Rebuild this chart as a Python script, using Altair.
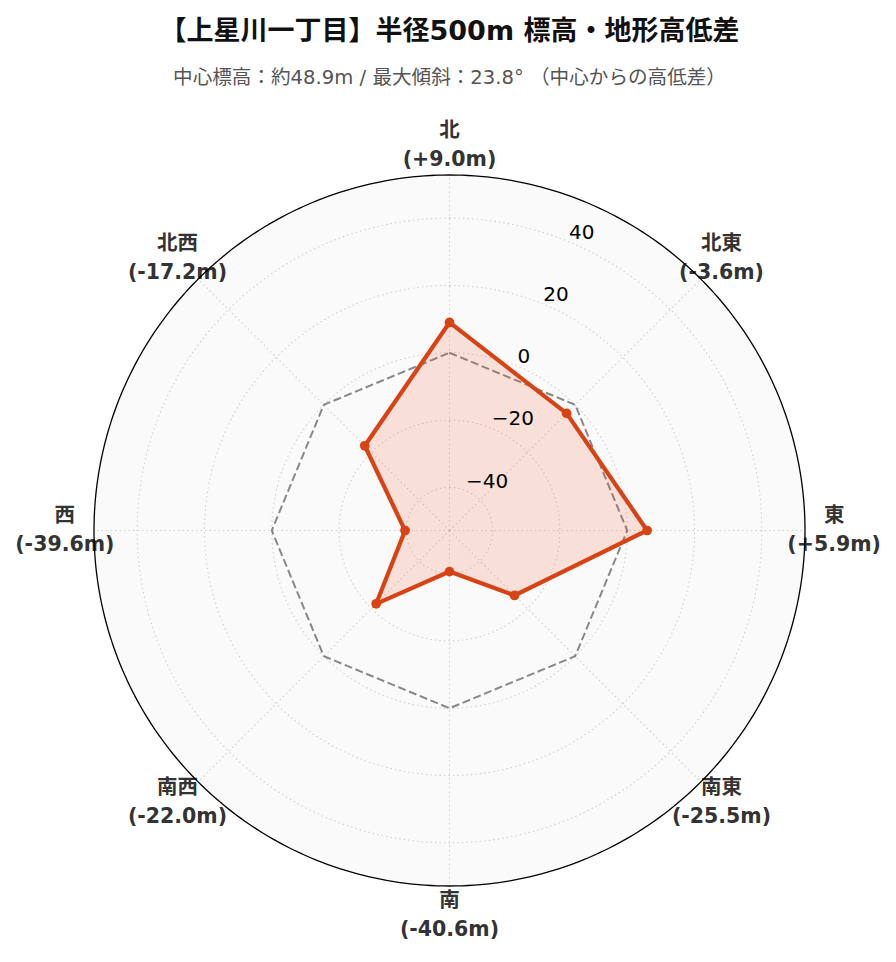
import altair as alt
import pandas as pd

# ---------------- data ----------------
title_text = "【上星川一丁目】半径500m 標高・地形高低差"
subtitle_text = "中心標高：約48.9m / 最大傾斜：23.8° （中心からの高低差）"
directions = ["北", "北東", "東", "南東", "南", "南西", "西", "北西"]
diffs = [9.0, -3.6, 5.9, -25.5, -40.6, -22.0, -39.6, -17.2]
r_ticks = [-40, -20, 0, 20, 40]
r_tick_labels = ["−40", "−20", "0", "20", "40"]
ref_level = 0.0

R_LIM = round(max(abs(v) for v in diffs) * 1.3, 1)   # radial limits +-R_LIM
D = 2 * R_LIM                                          # radial span (data units)
LABEL_D = D * 1.082                                    # where direction labels sit

W = 711
FONT = "DejaVu Sans, Noto Sans CJK JP"
ACCENT = "#D84315"
FILL = "#F4511E"

pts = pd.DataFrame({
    "i": list(range(len(directions))),
    "v": diffs,
    "label": [f"{d}\n({v:+.1f}m)" for d, v in zip(directions, diffs)],
})
ref = pd.DataFrame({"i": list(range(len(directions))), "v": [ref_level] * len(directions)})
circ = pd.DataFrame([(t, k) for t in r_ticks for k in range(180)], columns=["t", "k"])
outer = pd.DataFrame({"k": list(range(360))})
spokes = pd.DataFrame({"i": list(range(len(directions)))})
ticks = pd.DataFrame({"t": r_ticks, "lab": r_tick_labels})

xs = alt.Scale(domain=[-D, D], nice=False, zero=False)
ys = alt.Scale(domain=[-D, D], nice=False, zero=False)
X = alt.X("x:Q", scale=xs, axis=None)
Y = alt.Y("y:Q", scale=ys, axis=None)

def polar(chart, rexpr, aexpr):
    return chart.transform_calculate(
        ang=aexpr
    ).transform_calculate(
        x=f"({rexpr}) * sin(datum.ang)",
        y=f"({rexpr}) * cos(datum.ang)",
    )

# background disc
bg = polar(alt.Chart(outer), f"{D}", "datum.k * 2 * PI / 360").mark_line(
    interpolate="linear-closed", fill="#fafafa", stroke="#fafafa", strokeWidth=0.5
).encode(x=X, y=Y, order="k:Q")

# grid circles
grid = polar(alt.Chart(circ), f"datum.t + {R_LIM}", "datum.k * 2 * PI / 180").mark_line(
    interpolate="linear-closed", color="#cfcfcf", strokeWidth=1.1, strokeDash=[1.5, 3]
).encode(x=X, y=Y, detail="t:N", order="k:Q")

# spokes
spk = alt.Chart(spokes).transform_calculate(
    ang="datum.i * PI / 4", x0="0", y0="0"
).transform_calculate(
    x=f"{D} * sin(datum.ang)", y=f"{D} * cos(datum.ang)"
).mark_rule(color="#cfcfcf", strokeWidth=1.1, strokeDash=[1.5, 3]).encode(
    x=alt.X("x0:Q", scale=xs, axis=None), y=alt.Y("y0:Q", scale=ys, axis=None),
    x2="x:Q", y2="y:Q"
)

# reference (0 m) octagon
zero = polar(alt.Chart(ref), f"datum.v + {R_LIM}", "datum.i * PI / 4").mark_line(
    interpolate="linear-closed", color="#888888", strokeWidth=2, strokeDash=[8, 3.6]
).encode(x=X, y=Y, order="i:Q")

# data polygon
poly = polar(alt.Chart(pts), f"datum.v + {R_LIM}", "datum.i * PI / 4").mark_line(
    interpolate="linear-closed", fill=FILL, fillOpacity=0.15, color=ACCENT, strokeWidth=4.2
).encode(x=X, y=Y, order="i:Q")

dots = polar(alt.Chart(pts), f"datum.v + {R_LIM}", "datum.i * PI / 4").mark_circle(
    size=95, color=ACCENT, opacity=1
).encode(x=X, y=Y)

# radial tick labels
tlab = polar(alt.Chart(ticks), f"datum.t + {R_LIM}", "PI / 8").mark_text(
    align="left", baseline="alphabetic", dy=-3, fontSize=20, font="DejaVu Sans", color="#000000"
).encode(x=X, y=Y, text="lab:N")

# direction labels
dlab = polar(alt.Chart(pts), f"{LABEL_D}", "datum.i * PI / 4").mark_text(
    align="center", baseline="middle", dy=-14.5, fontSize=20.5, fontWeight="bold", font=FONT,
    color="#333333", lineBreak="\n", lineHeight=29
).encode(x=X, y=Y, text="label:N")

# outer circle
edge = polar(alt.Chart(outer), f"{D}", "datum.k * 2 * PI / 360").mark_line(
    interpolate="linear-closed", color="#000000", strokeWidth=1.3
).encode(x=X, y=Y, order="k:Q")

chart = alt.layer(bg, grid, spk, zero, poly, dots, tlab, dlab, edge).properties(
    width=W, height=W,
    padding={"left": 86, "top": 167, "right": 83, "bottom": 68},
    autosize=alt.AutoSizeParams(type="none"),
    title=alt.TitleParams(
        text=title_text, subtitle=subtitle_text, anchor="middle", frame="group",
        font=FONT, fontSize=27, fontWeight="bold", color="#111111",
        subtitleFont=FONT, subtitleFontSize=19.6, subtitleColor="#555555",
        subtitlePadding=23, offset=33,
    ),
).configure_view(stroke=None)

chart.save("out.html", embed_options={"renderer": "svg", "actions": False})
